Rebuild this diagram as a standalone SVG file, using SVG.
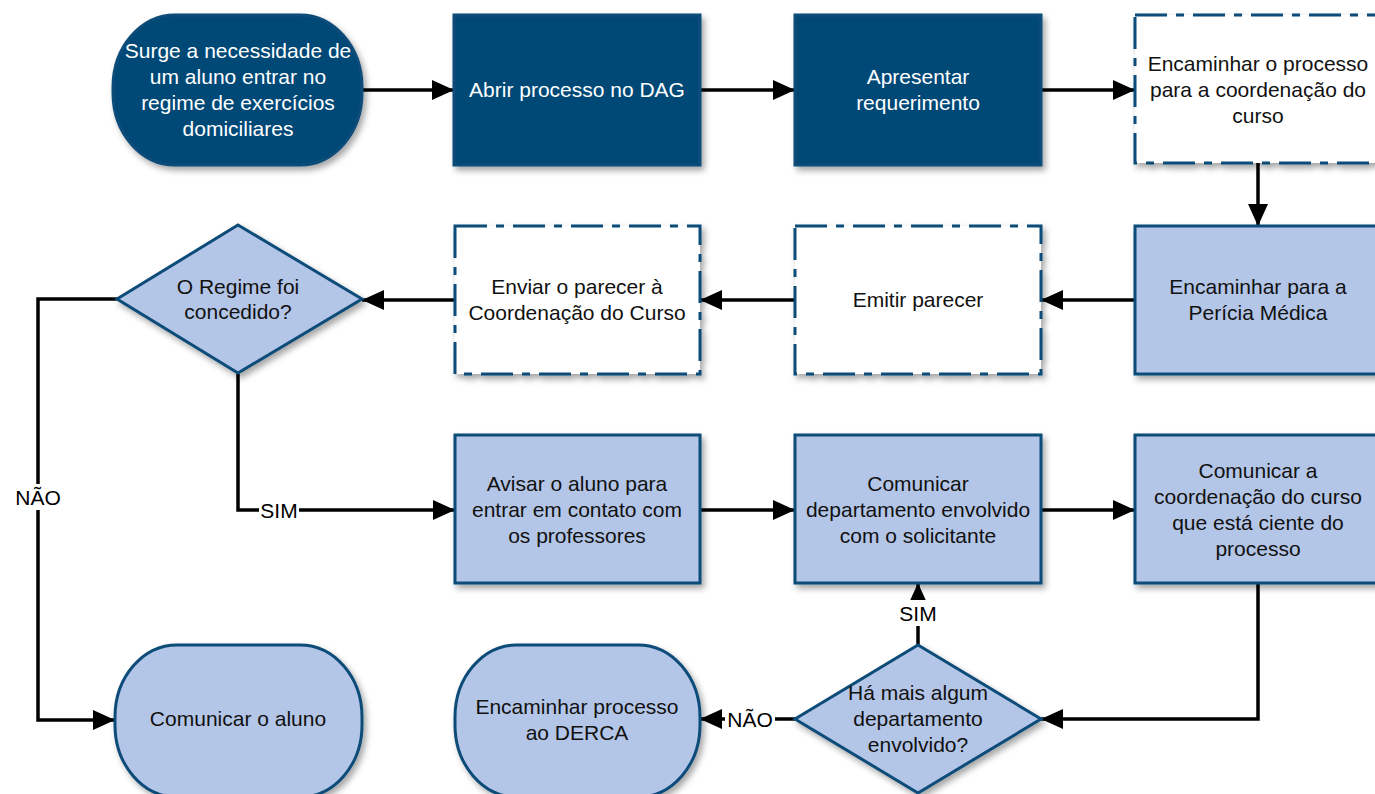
<svg xmlns="http://www.w3.org/2000/svg" width="1375" height="794" viewBox="0 0 1375 794">
  <defs>
    <filter id="sh" x="-10%" y="-10%" width="125%" height="130%">
      <feDropShadow dx="3" dy="4" stdDeviation="3" flood-color="#000" flood-opacity="0.35"/>
    </filter>
    <marker id="arr" markerUnits="userSpaceOnUse" markerWidth="22" markerHeight="20" refX="22" refY="10" orient="auto">
      <path d="M0,0 L22,10 L0,20 z" fill="#000"/>
    </marker>
  </defs>
  <style>
    .dark { fill: #024a77; stroke: #0d4b78; stroke-width: 3; filter: url(#sh); }
    .light { fill: #b4c6e7; stroke: #0d4b78; stroke-width: 3; filter: url(#sh); }
    .dash { fill: #ffffff; stroke: #0d4b78; stroke-width: 3; stroke-dasharray: 32 9 8 9; filter: url(#sh); }
    text { font-family: "Liberation Sans", Arial, sans-serif; font-size: 21px; text-anchor: middle; }
    .wt { fill: #ffffff; }
    .bt { fill: #111111; }
    .edge { fill: none; stroke: #000; stroke-width: 3.5; }
    .lbl { fill: #000; }
  </style>

  <g id="connectors">
    <path class="edge" d="M362,90 H454" marker-end="url(#arr)"/>
    <path class="edge" d="M700,90 H795" marker-end="url(#arr)"/>
    <path class="edge" d="M1041,90 H1135" marker-end="url(#arr)"/>
    <path class="edge" d="M1258,163 V226" marker-end="url(#arr)"/>
    <path class="edge" d="M1135,300 H1041" marker-end="url(#arr)"/>
    <path class="edge" d="M795,300 H700" marker-end="url(#arr)"/>
    <path class="edge" d="M455,300 H362" marker-end="url(#arr)"/>
    <path class="edge" d="M117,299 H38 V720 H115" marker-end="url(#arr)"/>
    <path class="edge" d="M238,373 V510 H455" marker-end="url(#arr)"/>
    <path class="edge" d="M700,510 H795" marker-end="url(#arr)"/>
    <path class="edge" d="M1041,510 H1135" marker-end="url(#arr)"/>
    <path class="edge" d="M1258,583 V719 H1041" marker-end="url(#arr)"/>
    <path class="edge" d="M918,645 V583" marker-end="url(#arr)"/>
    <path class="edge" d="M795,719 H700" marker-end="url(#arr)"/>
    <rect x="15" y="484" width="46" height="26" fill="#fff"/>
    <text class="lbl" x="38" y="505">NÃO</text>
    <rect x="259" y="498" width="40" height="24" fill="#fff"/>
    <text class="lbl" x="279" y="518">SIM</text>
    <rect x="897" y="600" width="42" height="26" fill="#fff"/>
    <text class="lbl" x="918" y="621">SIM</text>
    <rect x="725" y="707" width="50" height="24" fill="#fff"/>
    <text class="lbl" x="750" y="727">NÃO</text>
  </g>

  <g id="n-start">
    <rect class="dark" x="113" y="15" width="249" height="150" rx="62" ry="72"/>
    <text class="wt" x="238" y="58">Surge a necessidade de</text>
    <text class="wt" x="238" y="84">um aluno entrar no</text>
    <text class="wt" x="238" y="110">regime de exercícios</text>
    <text class="wt" x="238" y="136">domiciliares</text>
  </g>
  <g id="n-abrir">
    <rect class="dark" x="454" y="15" width="246" height="150"/>
    <text class="wt" x="577" y="97">Abrir processo no DAG</text>
  </g>
  <g id="n-apresentar">
    <rect class="dark" x="795" y="15" width="246" height="150"/>
    <text class="wt" x="918" y="84">Apresentar</text>
    <text class="wt" x="918" y="110">requerimento</text>
  </g>
  <g id="n-encaminhar-coord">
    <rect class="dash" x="1135" y="15" width="246" height="148"/>
    <text class="bt" x="1258" y="71">Encaminhar o processo</text>
    <text class="bt" x="1258" y="97">para a coordenação do</text>
    <text class="bt" x="1258" y="123">curso</text>
  </g>

  <g id="n-pericia">
    <rect class="light" x="1135" y="226" width="246" height="148"/>
    <text class="bt" x="1258" y="294">Encaminhar para a</text>
    <text class="bt" x="1258" y="320">Perícia Médica</text>
  </g>
  <g id="n-emitir">
    <rect class="dash" x="795" y="226" width="246" height="148"/>
    <text class="bt" x="918" y="307">Emitir parecer</text>
  </g>
  <g id="n-enviar">
    <rect class="dash" x="455" y="226" width="245" height="148"/>
    <text class="bt" x="577" y="294">Enviar o parecer à</text>
    <text class="bt" x="577" y="320">Coordenação do Curso</text>
  </g>
  <g id="n-decisao1">
    <polygon class="light" points="238,225 362,299 238,373 117,299"/>
    <text class="bt" x="238" y="294">O Regime foi</text>
    <text class="bt" x="238" y="319">concedido?</text>
  </g>

  <g id="n-avisar">
    <rect class="light" x="455" y="435" width="245" height="148"/>
    <text class="bt" x="577" y="491">Avisar o aluno para</text>
    <text class="bt" x="577" y="517">entrar em contato com</text>
    <text class="bt" x="577" y="543">os professores</text>
  </g>
  <g id="n-comunicar-depto">
    <rect class="light" x="795" y="435" width="246" height="148"/>
    <text class="bt" x="918" y="491">Comunicar</text>
    <text class="bt" x="918" y="517">departamento envolvido</text>
    <text class="bt" x="918" y="543">com o solicitante</text>
  </g>
  <g id="n-comunicar-coord">
    <rect class="light" x="1135" y="435" width="246" height="148"/>
    <text class="bt" x="1258" y="478">Comunicar a</text>
    <text class="bt" x="1258" y="504">coordenação do curso</text>
    <text class="bt" x="1258" y="530">que está ciente do</text>
    <text class="bt" x="1258" y="556">processo</text>
  </g>

  <g id="n-comunicar-aluno">
    <rect class="light" x="115" y="645" width="247" height="152" rx="62" ry="72"/>
    <text class="bt" x="238" y="726">Comunicar o aluno</text>
  </g>
  <g id="n-derca">
    <rect class="light" x="455" y="645" width="245" height="152" rx="62" ry="72"/>
    <text class="bt" x="577" y="714">Encaminhar processo</text>
    <text class="bt" x="577" y="740">ao DERCA</text>
  </g>
  <g id="n-decisao2">
    <polygon class="light" points="918,645 1041,719 918,793 795,719"/>
    <text class="bt" x="918" y="700">Há mais algum</text>
    <text class="bt" x="918" y="726">departamento</text>
    <text class="bt" x="918" y="752">envolvido?</text>
  </g>
</svg>
